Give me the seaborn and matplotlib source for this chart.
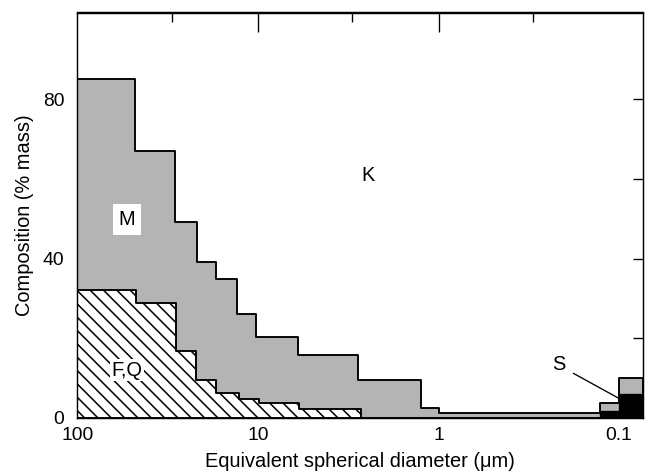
import numpy as np
import pandas as pd
import matplotlib
matplotlib.use("Agg")
import matplotlib.pyplot as plt
from matplotlib.ticker import NullFormatter, FixedLocator
import seaborn as sns

# ---- data (size bins in micrometres, composition in % mass) ----
# upper envelope of the grey (M) region = cumulative top of all minerals below K
gray_edges = [100, 47.8, 28.7, 21.8, 17.1, 13.0, 10.3, 6.0, 2.81, 1.255, 1.0, 0.127, 0.1, 0.074]
gray_top = [85.0, 67.0, 49.2, 39.1, 34.8, 26.1, 20.2, 15.8, 9.5, 2.4, 1.2, 3.8, 10.1]
# hatched (F,Q) region
fq_edges = [100, 47.4, 28.5, 22.1, 17.1, 12.7, 9.87, 5.90, 2.70]
fq_top = [32.1, 28.8, 16.8, 9.5, 6.2, 4.8, 3.8, 2.3]
# black (S) region
s_edges = [0.127, 0.1, 0.074]
s_top = [1.7, 6.0]

x_ticks = [100, 10, 1, 0.1]
x_tick_labels = ["100", "10", "1", "0.1"]
y_ticks = [0, 20, 40, 60, 80]
y_tick_labels = ["0", "", "40", "", "80"]

sns.set_style("ticks")
plt.rcParams["font.family"] = ["Liberation Sans", "DejaVu Sans"]
plt.rcParams["hatch.linewidth"] = 1.4
for k in ["text.color", "axes.labelcolor", "xtick.color", "ytick.color", "axes.edgecolor"]:
    plt.rcParams[k] = "black"

fig = plt.figure(figsize=(8.2, 5.9375), dpi=80)
ax = fig.add_axes([0.1181, 1 - 418 / 475, 0.9797 - 0.1181, (418 - 12.5) / 475])


def layer(edges, vals, z, **kw):
    e = np.asarray(edges, dtype=float)
    v = np.asarray(vals, dtype=float)
    df = pd.DataFrame({"size": np.sqrt(e[:-1] * e[1:]), "mass": v})
    sns.histplot(data=df, x="size", weights="mass", bins=sorted(e.tolist()), element="step",
                 fill=True, stat="count", ax=ax, zorder=z, alpha=1, **kw)


layer(gray_edges, gray_top, 1, facecolor="#b4b4b4", edgecolor="black", linewidth=1.7)
layer(fq_edges, fq_top, 2, facecolor="white", edgecolor="black", linewidth=1.7, hatch="\\\\")
layer(s_edges, s_top, 3, facecolor="black", edgecolor="black", linewidth=1.2)

ax.set_xscale("log")
ax.set_xlim(100, 0.074)
ax.set_ylim(0, 101.7)

ax.set_xticks(x_ticks)
ax.set_xticklabels(x_tick_labels)
ax.xaxis.set_minor_locator(FixedLocator([]))
ax.tick_params(axis="x", which="both", bottom=False, top=False, labelsize=17.3, pad=5)

ax.set_yticks(y_ticks)
ax.set_yticklabels(y_tick_labels)
ax.tick_params(axis="y", which="both", direction="in", left=True, right=True,
               length=9, width=1.2, labelsize=17.3, pad=12)
for t in ax.yaxis.get_major_ticks()[:1]:
    t.tick1line.set_visible(False)
    t.tick2line.set_visible(False)

sec = ax.secondary_xaxis("top")
sec.set_xticks([10, 1])
sec.set_xticks([30, 3, 0.3], minor=True)
sec.xaxis.set_minor_formatter(NullFormatter())
sec.tick_params(axis="x", which="major", direction="in", length=18, width=1.2, labeltop=False)
sec.tick_params(axis="x", which="minor", direction="in", length=9, width=1.2, labeltop=False)
sec.spines["top"].set_linewidth(1.3)

for s in ax.spines.values():
    s.set_linewidth(1.3)
    s.set_color("black")

ax.set_xlabel("Equivalent spherical diameter (μm)", fontsize=18, labelpad=7)
ax.set_ylabel("Composition (% mass)", fontsize=18, labelpad=8)

ax.text(2.46, 60.9, "K", ha="center", va="center", fontsize=18, zorder=5)
ax.text(53.2, 49.9, "M", ha="center", va="center", fontsize=18, zorder=5,
        bbox=dict(boxstyle="square,pad=0.3", facecolor="white", edgecolor="none"))
ax.text(53.2, 12.0, "F,Q", ha="center", va="center", fontsize=18, zorder=5,
        bbox=dict(boxstyle="square,pad=0.08", facecolor="white", edgecolor="none"))
ax.text(0.215, 13.3, "S", ha="center", va="center", fontsize=18, zorder=5)
ax.plot([0.179, 0.1], [11.2, 4.9], color="black", linewidth=1.2, zorder=5)

fig.savefig("out.png", dpi=80)
